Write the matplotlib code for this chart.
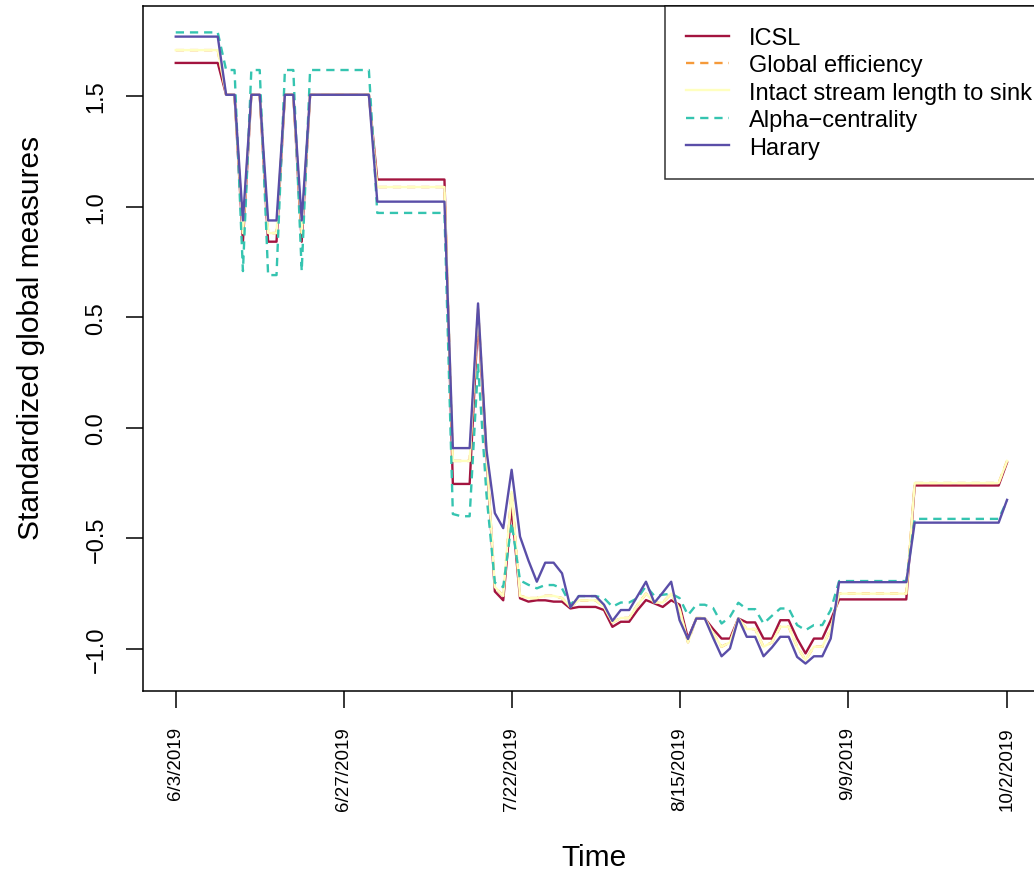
import numpy as np
import matplotlib
matplotlib.use("Agg")
import matplotlib.pyplot as plt

plt.rcParams['font.family'] = ['Liberation Sans', 'DejaVu Sans']

# observation index (one value per sampling date)
obs = np.arange(1, 101)
tick_pos = [1, 21, 41, 61, 81, 100]
tick_labels = ['6/3/2019', '6/27/2019', '7/22/2019', '8/15/2019', '9/9/2019', '10/2/2019']

icsl = ([1.649] * 6 + [1.505] * 2 + [0.841] + [1.505] * 2 + [0.841] * 2 + [1.505] * 2 + [0.841]
        + [1.505] * 8 + [1.122] * 9 + [-0.254] * 3
        + [0.50, -0.12, -0.74, -0.78, -0.356, -0.771, -0.786, -0.78, -0.78, -0.786,
           -0.786, -0.817, -0.81, -0.81, -0.81, -0.824, -0.90, -0.877, -0.877, -0.824,
           -0.779, -0.794, -0.81, -0.78, -0.80, -0.953, -0.862, -0.862, -0.91, -0.953,
           -0.953, -0.862, -0.88, -0.88, -0.953, -0.953, -0.87, -0.87, -0.953, -1.02,
           -0.953, -0.953, -0.87]
        + [-0.776] * 9 + [-0.261] * 11 + [-0.157])

intact = ([1.707] * 6 + [1.505] * 2 + [0.88] + [1.505] * 2 + [0.88] * 2 + [1.505] * 2 + [0.88]
          + [1.505] * 8 + [1.088] * 9 + [-0.15] * 3
          + [0.54, -0.11, -0.72, -0.76, -0.29, -0.76, -0.77, -0.77, -0.76, -0.76,
             -0.77, -0.81, -0.78, -0.78, -0.78, -0.81, -0.88, -0.86, -0.86, -0.80,
             -0.75, -0.79, -0.79, -0.75, -0.82, -0.97, -0.86, -0.86, -0.93, -0.99,
             -0.97, -0.86, -0.91, -0.91, -0.99, -0.97, -0.90, -0.90, -0.99, -1.05,
             -0.99, -0.99, -0.91]
          + [-0.75] * 9 + [-0.25] * 11 + [-0.15])

# global efficiency sits under the intact-length line in the figure
global_eff = list(intact)

alpha = ([1.787] * 6 + [1.617] * 2 + [0.708] + [1.617] * 2 + [0.69] * 2 + [1.617] * 2 + [0.708]
         + [1.617] * 8 + [0.971] * 9 + [-0.39, -0.40, -0.40]
         + [0.285, -0.30, -0.70, -0.72, -0.43, -0.69, -0.71, -0.726, -0.711, -0.711,
            -0.726, -0.80, -0.761, -0.761, -0.761, -0.77, -0.809, -0.79, -0.79, -0.77,
            -0.716, -0.76, -0.755, -0.75, -0.77, -0.847, -0.80, -0.80, -0.815, -0.885,
            -0.855, -0.791, -0.82, -0.82, -0.885, -0.85, -0.817, -0.817, -0.892, -0.915,
            -0.892, -0.892, -0.824]
         + [-0.693] * 9 + [-0.412] * 11 + [-0.33])

harary = ([1.768] * 6 + [1.505] * 2 + [0.937] + [1.505] * 2 + [0.937] * 2 + [1.505] * 2 + [0.937]
          + [1.505] * 8 + [1.022] * 9 + [-0.092] * 3
          + [0.562, -0.10, -0.386, -0.454, -0.19, -0.492, -0.60, -0.696, -0.61, -0.61,
             -0.658, -0.812, -0.761, -0.761, -0.761, -0.80, -0.873, -0.824, -0.824, -0.76,
             -0.696, -0.791, -0.745, -0.696, -0.87, -0.955, -0.862, -0.862, -0.95, -1.033,
             -0.998, -0.862, -0.945, -0.945, -1.033, -0.993, -0.945, -0.945, -1.036, -1.066,
             -1.033, -1.033, -0.953]
          + [-0.698] * 9 + [-0.429] * 11 + [-0.326])

W, H = 1034, 878
fig = plt.figure(figsize=(W / 100, H / 100), dpi=100)
# axes box in pixels: left 142.5, right 1040 (cut by the image edge), top 7.3, bottom 692
ax = fig.add_axes([142.5 / W, 1 - 692 / H, (1040.3 - 142.5) / W, (692 - 7.3) / H])

lw = 1.7
ax.plot(obs, icsl, color='#A3143F', lw=lw, label='ICSL')
ax.plot(obs, global_eff, color='#F59A3A', lw=lw, ls=(0, (3.5, 2.5)), label='Global efficiency')
ax.plot(obs, intact, color='#FFFFBF', lw=lw, label='Intact stream length to sink')
ax.plot(obs, alpha, color='#35C4B0', lw=lw, ls=(0, (3.5, 2.5)), label='Alpha\u2212centrality')
ax.plot(obs, harary, color='#5A4EA8', lw=lw, label='Harary')

ax.set_xlim(-2.96, 103.96)
ax.set_ylim(-1.19, 1.905)

ax.set_xticks(tick_pos)
ax.set_xticklabels(tick_labels, rotation=90, fontsize=13.5)
ax.set_yticks([-1.0, -0.5, 0.0, 0.5, 1.0, 1.5])
ax.set_yticklabels(['\u22121.0', '\u22120.5', '0.0', '0.5', '1.0', '1.5'],
                   rotation=90, va='center', fontsize=17)
ax.tick_params(axis='both', direction='out', length=12.2, width=1.1, color='black')
ax.tick_params(axis='x', pad=13)
ax.tick_params(axis='y', pad=13)
for s in ax.spines.values():
    s.set_linewidth(1.1)
    s.set_color('black')

fig.text(31.5 / W, 1 - 338 / H, 'Standardized global measures', rotation=90,
         ha='center', va='center', fontsize=21.5)
fig.text(594 / W, 1 - 858 / H, 'Time', ha='center', va='center', fontsize=21.5)

# legend box runs off the right edge of the image, as in the original
leg = ax.legend(loc='upper right', bbox_to_anchor=(1.0134, 1), borderaxespad=0,
                fancybox=False, frameon=True, fontsize=17, handlelength=1.82,
                handletextpad=0.85, labelspacing=0.23, borderpad=0.87)
leg.get_frame().set_edgecolor('black')
leg.get_frame().set_linewidth(1.1)

fig.savefig('out.png', dpi=100)
